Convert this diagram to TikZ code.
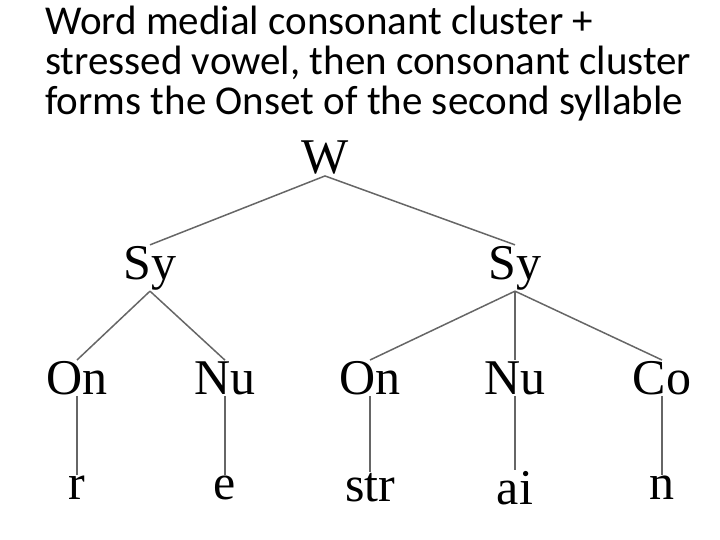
\documentclass[tikz,border=0pt]{standalone}
\usepackage{fontspec}
\setmainfont{Liberation Serif}
\newfontfamily\titlefont{Carlito}
\begin{document}
\begin{tikzpicture}[x=1pt,y=-1pt,
  lab/.style={font=\fontsize{50}{52}\selectfont, inner sep=1pt},
  branch/.style={draw=black!60, line width=1.5pt}]
\useasboundingbox (0,0) rectangle (720,540);
% title
\node[anchor=north west, align=left, inner sep=0pt,
  font=\titlefont\fontsize{41}{40}\selectfont] (title) at (45,6)
  {Word medial consonant cluster +\\stressed vowel, then consonant cluster\\forms the Onset of the second syllable};

% tree
\node[lab] (W) at (325,158) {W};
\node[lab] (Sy1) at (150,268) {Sy};
\node[lab] (Sy2) at (515,268) {Sy};
\node[lab] (On1) at (77,378) {On};
\node[lab] (Nu1) at (225,378) {Nu};
\node[lab] (On2) at (370,378) {On};
\node[lab] (Nu2) at (515,378) {Nu};
\node[lab] (Co2) at (662,378) {Co};
\node[lab] (r) at (77,488) {r};
\node[lab] (e) at (225,488) {e};
\node[lab] (str) at (370,488) {str};
\node[lab] (ai) at (515,488) {ai};
\node[lab] (n) at (662,488) {n};

\draw[branch] (W.south) -- (Sy1.north);
\draw[branch] (W.south) -- (Sy2.north);
\draw[branch] (Sy1.south) -- (On1.north);
\draw[branch] (Sy1.south) -- (Nu1.north);
\draw[branch] (Sy2.south) -- (On2.north);
\draw[branch] (Sy2.south) -- (Nu2.north);
\draw[branch] (Sy2.south) -- (Co2.north);
\draw[branch] (On1.south) -- (r.north);
\draw[branch] (Nu1.south) -- (e.north);
\draw[branch] (On2.south) -- (str.north);
\draw[branch] (Nu2.south) -- (ai.north);
\draw[branch] (Co2.south) -- (n.north);
\end{tikzpicture}
\end{document}
